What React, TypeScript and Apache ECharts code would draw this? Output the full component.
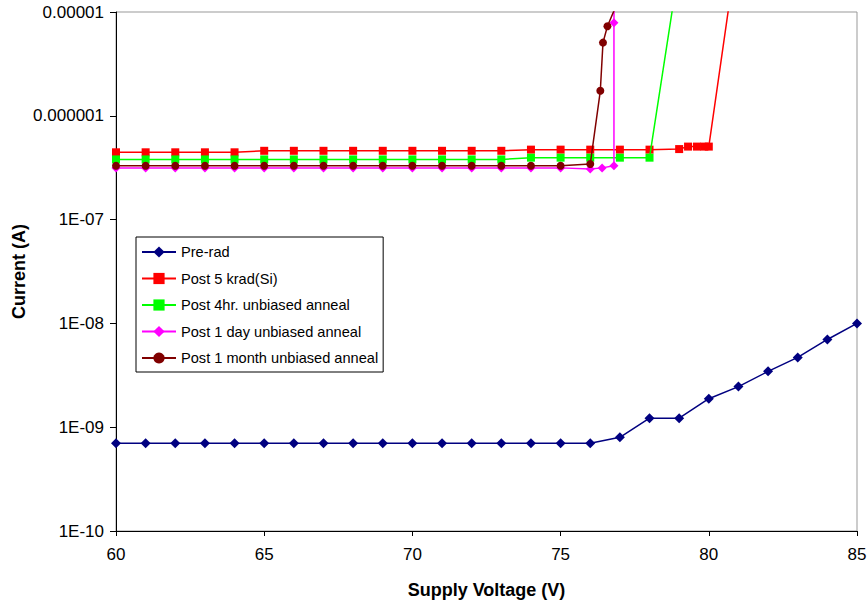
import React, { useEffect, useRef } from "react";
import * as echarts from "echarts";

const seriesNames = [
  "Pre-rad",
  "Post 5 krad(Si)",
  "Post 4hr. unbiased anneal",
  "Post 1 day unbiased anneal",
  "Post 1 month unbiased anneal",
];

const preRadV = [60, 61, 62, 63, 64, 65, 66, 67, 68, 69, 70, 71, 72, 73, 74, 75, 76, 77, 78, 79, 80, 81, 82, 83, 84, 85];
const preRadI = [7e-10, 7e-10, 7e-10, 7e-10, 7e-10, 7e-10, 7e-10, 7e-10, 7e-10, 7e-10, 7e-10, 7e-10, 7e-10, 7e-10, 7e-10, 7e-10, 7e-10, 8e-10, 1.22e-9, 1.22e-9, 1.88e-9, 2.46e-9, 3.45e-9, 4.7e-9, 7.0e-9, 1.0e-8];

const post5kV = [60, 61, 62, 63, 64, 65, 66, 67, 68, 69, 70, 71, 72, 73, 74, 75, 76, 77, 78, 79, 79.3, 79.6, 79.85, 80, 81];
const post5kI = [4.45e-7, 4.45e-7, 4.45e-7, 4.45e-7, 4.45e-7, 4.6e-7, 4.6e-7, 4.6e-7, 4.6e-7, 4.6e-7, 4.6e-7, 4.6e-7, 4.6e-7, 4.6e-7, 4.72e-7, 4.72e-7, 4.72e-7, 4.72e-7, 4.72e-7, 4.78e-7, 5.05e-7, 5.05e-7, 5.05e-7, 5.05e-7, 5e-5];

const post4hV = [60, 61, 62, 63, 64, 65, 66, 67, 68, 69, 70, 71, 72, 73, 74, 75, 76, 77, 78, 79];
const post4hI = [3.8e-7, 3.8e-7, 3.8e-7, 3.8e-7, 3.8e-7, 3.8e-7, 3.8e-7, 3.8e-7, 3.8e-7, 3.8e-7, 3.8e-7, 3.8e-7, 3.8e-7, 3.8e-7, 3.95e-7, 3.95e-7, 3.95e-7, 3.95e-7, 3.95e-7, 2.8e-5];

const post1dV = [60, 61, 62, 63, 64, 65, 66, 67, 68, 69, 70, 71, 72, 73, 74, 75, 76, 76.4, 76.8, 76.8, 76.82];
const post1dI = [3.15e-7, 3.15e-7, 3.15e-7, 3.15e-7, 3.15e-7, 3.15e-7, 3.15e-7, 3.15e-7, 3.15e-7, 3.15e-7, 3.15e-7, 3.15e-7, 3.15e-7, 3.15e-7, 3.15e-7, 3.15e-7, 3.07e-7, 3.15e-7, 3.3e-7, 7.9e-6, 1e-4];

const post1mV = [60, 61, 62, 63, 64, 65, 66, 67, 68, 69, 70, 71, 72, 73, 74, 75, 76, 76.34, 76.43, 76.58, 76.9];
const post1mI = [3.3e-7, 3.3e-7, 3.3e-7, 3.3e-7, 3.3e-7, 3.3e-7, 3.3e-7, 3.3e-7, 3.3e-7, 3.3e-7, 3.3e-7, 3.3e-7, 3.3e-7, 3.3e-7, 3.3e-7, 3.3e-7, 3.43e-7, 1.74e-6, 5.07e-6, 7.3e-6, 1.2e-5];

const xTicks = [60, 65, 70, 75, 80, 85];
const yTickLabels = ["1E-10", "1E-09", "1E-08", "1E-07", "0.000001", "0.00001"];

const FONT = "'Liberation Sans', Arial, sans-serif";

function pairs(xs: number[], ys: number[]) {
  return xs.map((x, i) => [x, ys[i]]);
}

export default function App() {
  const ref = useRef<HTMLDivElement>(null);
  useEffect(() => {
    document.body.style.margin = "0";
    if (!ref.current) return;
    const chart = echarts.init(ref.current, null, { renderer: "svg" });
    const styles = [
      { color: "#000080", symbol: "diamond", size: 10 },
      { color: "#FF0000", symbol: "rect", size: 8 },
      { color: "#00FF00", symbol: "rect", size: 8 },
      { color: "#FF00FF", symbol: "diamond", size: 9 },
      { color: "#800000", symbol: "circle", size: 8 },
    ];
    const datasets = [
      pairs(preRadV, preRadI),
      pairs(post5kV, post5kI),
      pairs(post4hV, post4hI),
      pairs(post1dV, post1dI),
      pairs(post1mV, post1mI),
    ];
    chart.setOption({
      animation: false,
      backgroundColor: "#fff",
      textStyle: { fontFamily: FONT, color: "#000" },
      grid: {
        left: 116,
        right: 10,
        top: 12,
        bottom: 71,
        outerBoundsMode: "none",
        containLabel: false,
        show: true,
        borderColor: "#999",
        borderWidth: 1,
        backgroundColor: "transparent",
      },
      legend: {
        orient: "vertical",
        left: 136,
        top: 237,
        padding: [7, 5, 6, 5],
        itemGap: 10.5,
        itemWidth: 34,
        itemHeight: 14,
        borderColor: "#000",
        borderWidth: 1,
        backgroundColor: "#fff",
        textStyle: { fontFamily: FONT, fontSize: 14.6, color: "#000", lineHeight: 16 },
        data: seriesNames,
      },
      xAxis: {
        type: "value",
        min: 60,
        max: 85,
        interval: 5,
        name: "Supply Voltage (V)",
        nameLocation: "middle",
        nameGap: 50,
        nameMoveOverlap: false,
        nameTextStyle: { fontFamily: FONT, fontSize: 18, fontWeight: "bold", color: "#000" },
        axisLine: { show: true, lineStyle: { color: "#000", width: 1 } },
        axisTick: { show: true, inside: false, length: 5, lineStyle: { color: "#000" } },
        axisLabel: {
          fontFamily: FONT,
          fontSize: 17,
          color: "#000",
          margin: 15,
          formatter: (v: number) => (xTicks.includes(v) ? String(v) : ""),
        },
        splitLine: { show: false },
      },
      yAxis: {
        type: "log",
        logBase: 10,
        min: 1e-10,
        max: 1e-5,
        name: "Current (A)",
        nameLocation: "middle",
        nameGap: 88,
        nameMoveOverlap: false,
        nameTextStyle: { fontFamily: FONT, fontSize: 18, fontWeight: "bold", color: "#000" },
        axisLine: { show: true, lineStyle: { color: "#000", width: 1 } },
        axisTick: { show: true, inside: false, length: 6, lineStyle: { color: "#000" } },
        axisLabel: {
          fontFamily: FONT,
          fontSize: 17,
          color: "#000",
          margin: 12,
          formatter: (v: number) => {
            const e = Math.round(Math.log10(v));
            const idx = e + 10;
            return yTickLabels[idx] ?? "";
          },
        },
        splitLine: { show: false },
      },
      series: datasets.map((d, i) => ({
        name: seriesNames[i],
        type: "line",
        data: d,
        clip: true,
        symbol: styles[i].symbol,
        symbolSize: styles[i].size,
        showAllSymbol: true,
        itemStyle: { color: styles[i].color },
        lineStyle: { color: styles[i].color, width: 1.5 },
        z: 2 + i,
      })),
    });
    return () => chart.dispose();
  }, []);
  return <div ref={ref} style={{ width: 867, height: 602 }} />;
}
